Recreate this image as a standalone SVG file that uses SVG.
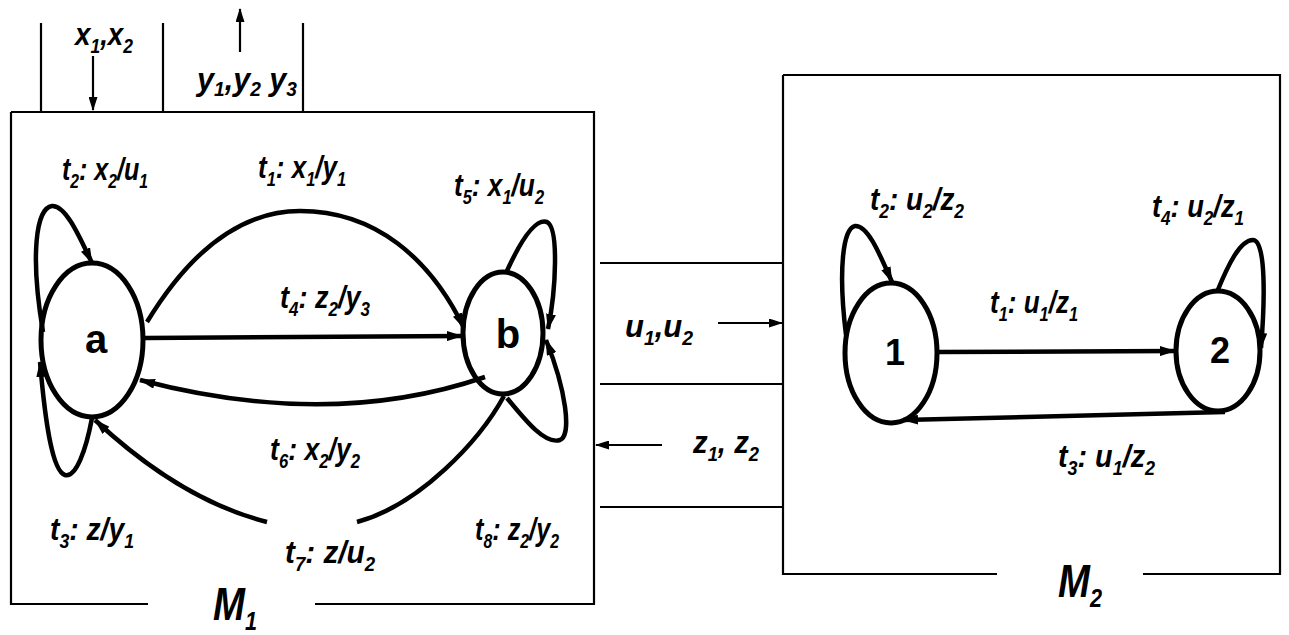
<svg xmlns="http://www.w3.org/2000/svg" width="1289" height="635" viewBox="0 0 1289 635">
<style>
.bx{fill:none;stroke:#000;stroke-width:2.2}
.st{fill:none;stroke:#000;stroke-width:5}
.ed{fill:none;stroke:#000;stroke-width:4.5}
.th{fill:none;stroke:#000;stroke-width:2.2}
.lb{font-family:"Liberation Sans",Arial,sans-serif;font-weight:bold;font-style:italic;font-size:32px;fill:#000}
.s{font-size:20px}
.nm{font-family:"Liberation Sans",Arial,sans-serif;font-weight:bold;font-size:40px;fill:#000;text-anchor:middle}
</style>
<defs>
<marker id="ah" markerUnits="userSpaceOnUse" viewBox="0 0 16 10" refX="15" refY="5" markerWidth="16" markerHeight="10" orient="auto"><path d="M0,0 L16,5 L0,10 z" fill="#000"/></marker>
<marker id="ahs" markerUnits="userSpaceOnUse" viewBox="0 0 14 9" refX="13" refY="4.5" markerWidth="14" markerHeight="9" orient="auto"><path d="M0,0 L14,4.5 L0,9 z" fill="#000"/></marker>
</defs>
<rect width="1289" height="635" fill="#fff"/>

<g id="frames">
<path class="bx" d="M11 112 L594 112 L594 604 L315 604 M148 604 L11 604 L11 112"/>
<path class="bx" d="M41 23 L41 112 M163 23 L163 112 M303 23 L303 112"/>
<path class="bx" d="M783 75 L1280 75 L1280 574 L1143 574 M997 574 L783 574 L783 75"/>
<path class="bx" d="M600 263 L783 263 M600 384 L783 384 M600 507 L783 507"/>
<text class="lb" x="213" y="620" textLength="44" lengthAdjust="spacingAndGlyphs" style="font-size:46px">M<tspan dy="10" style="font-size:26px">1</tspan></text>
<text class="lb" x="1058" y="597" textLength="44" lengthAdjust="spacingAndGlyphs" style="font-size:46px">M<tspan dy="10" style="font-size:26px">2</tspan></text>
</g>

<g id="node-a"><ellipse class="st" cx="92" cy="340" rx="51" ry="77"/><text class="nm" x="96" y="353">a</text></g>
<g id="node-b"><ellipse class="st" cx="503" cy="333" rx="40" ry="61"/><text class="nm" x="508" y="348">b</text></g>
<g id="node-1"><ellipse class="st" cx="891" cy="353" rx="46" ry="70"/><text class="nm" x="895" y="365" style="font-size:36px">1</text></g>
<g id="node-2"><ellipse class="st" cx="1218" cy="351" rx="42" ry="60"/><text class="nm" x="1220" y="363" style="font-size:36px">2</text></g>

<g id="connectors">
<path class="th" d="M93 56 L93 110" marker-end="url(#ahs)"/>
<path class="th" d="M240 52 L240 9" marker-end="url(#ahs)"/>
<path class="th" d="M718 323 L782 323" marker-end="url(#ahs)"/>
<path class="th" d="M662 445 L596 445" marker-end="url(#ahs)"/>
<path class="ed" d="M43 332 C30 255 36 208 52 206 C66 205 80 238 92 263" marker-end="url(#ah)"/>
<path class="ed" d="M92 418 C86 450 76 478 65 475 C52 471 45 420 40 362" marker-end="url(#ah)"/>
<path class="ed" d="M147 322 C200 235 255 211 300 211 C375 211 430 258 464 328" marker-end="url(#ah)"/>
<path class="ed" d="M145 338 L462 336" marker-end="url(#ah)"/>
<path class="ed" d="M485 377 Q330 430 140 380" marker-end="url(#ah)"/>
<path class="ed" d="M504 396 C480 440 420 505 357 522"/>
<path class="ed" d="M267 522 C200 505 140 462 95 420" marker-end="url(#ah)"/>
<path class="ed" d="M506 273 C520 242 535 218 547 222 C559 228 556 290 548 329" marker-end="url(#ah)"/>
<path class="ed" d="M507 398 C525 420 545 445 560 440 C572 435 566 390 546 340" marker-end="url(#ah)"/>
<path class="ed" d="M846 335 C838 270 843 228 855 226 C868 225 880 255 892 282" marker-end="url(#ah)"/>
<path class="ed" d="M1217 292 C1228 265 1240 240 1253 240 C1266 240 1265 300 1261 348" marker-end="url(#ah)"/>
<path class="ed" d="M937 352 L1175 351" marker-end="url(#ah)"/>
<path class="ed" d="M1225 412 L903 420" marker-end="url(#ah)"/>
</g>

<g id="labels">
<text class="lb" x="75" y="45" textLength="58" lengthAdjust="spacingAndGlyphs">x<tspan class="s" dy="8">1</tspan><tspan dy="-8">,x</tspan><tspan class="s" dy="8">2</tspan></text>
<text class="lb" x="197" y="90" textLength="100" lengthAdjust="spacingAndGlyphs">y<tspan class="s" dy="6">1</tspan><tspan dy="-6">,y</tspan><tspan class="s" dy="6">2</tspan><tspan dy="-6"> y</tspan><tspan class="s" dy="6">3</tspan></text>
<text class="lb" x="625" y="337" textLength="68" lengthAdjust="spacingAndGlyphs">u<tspan class="s" dy="8">1</tspan><tspan dy="-8">,u</tspan><tspan class="s" dy="8">2</tspan></text>
<text class="lb" x="693" y="453" textLength="66" lengthAdjust="spacingAndGlyphs">z<tspan class="s" dy="8">1</tspan><tspan dy="-8">, z</tspan><tspan class="s" dy="8">2</tspan></text>

<text class="lb" x="62" y="180" textLength="86" lengthAdjust="spacingAndGlyphs">t<tspan class="s" dy="8">2</tspan><tspan dy="-8">: x</tspan><tspan class="s" dy="8">2</tspan><tspan dy="-8">/u</tspan><tspan class="s" dy="8">1</tspan></text>
<text class="lb" x="258" y="178" textLength="88" lengthAdjust="spacingAndGlyphs">t<tspan class="s" dy="8">1</tspan><tspan dy="-8">: x</tspan><tspan class="s" dy="8">1</tspan><tspan dy="-8">/y</tspan><tspan class="s" dy="8">1</tspan></text>
<text class="lb" x="454" y="196" textLength="90" lengthAdjust="spacingAndGlyphs">t<tspan class="s" dy="8">5</tspan><tspan dy="-8">: x</tspan><tspan class="s" dy="8">1</tspan><tspan dy="-8">/u</tspan><tspan class="s" dy="8">2</tspan></text>
<text class="lb" x="280" y="308" textLength="90" lengthAdjust="spacingAndGlyphs">t<tspan class="s" dy="8">4</tspan><tspan dy="-8">: z</tspan><tspan class="s" dy="8">2</tspan><tspan dy="-8">/y</tspan><tspan class="s" dy="8">3</tspan></text>
<text class="lb" x="270" y="460" textLength="90" lengthAdjust="spacingAndGlyphs">t<tspan class="s" dy="8">6</tspan><tspan dy="-8">: x</tspan><tspan class="s" dy="8">2</tspan><tspan dy="-8">/y</tspan><tspan class="s" dy="8">2</tspan></text>
<text class="lb" x="50" y="540" textLength="84" lengthAdjust="spacingAndGlyphs">t<tspan class="s" dy="8">3</tspan><tspan dy="-8">: z/y</tspan><tspan class="s" dy="8">1</tspan></text>
<text class="lb" x="285" y="563" textLength="90" lengthAdjust="spacingAndGlyphs">t<tspan class="s" dy="8">7</tspan><tspan dy="-8">: z/u</tspan><tspan class="s" dy="8">2</tspan></text>
<text class="lb" x="475" y="540" textLength="84" lengthAdjust="spacingAndGlyphs">t<tspan class="s" dy="8">8</tspan><tspan dy="-8">: z</tspan><tspan class="s" dy="8">2</tspan><tspan dy="-8">/y</tspan><tspan class="s" dy="8">2</tspan></text>

<text class="lb" x="870" y="210" textLength="94" lengthAdjust="spacingAndGlyphs">t<tspan class="s" dy="8">2</tspan><tspan dy="-8">: u</tspan><tspan class="s" dy="8">2</tspan><tspan dy="-8">/z</tspan><tspan class="s" dy="8">2</tspan></text>
<text class="lb" x="1152" y="217" textLength="92" lengthAdjust="spacingAndGlyphs">t<tspan class="s" dy="8">4</tspan><tspan dy="-8">: u</tspan><tspan class="s" dy="8">2</tspan><tspan dy="-8">/z</tspan><tspan class="s" dy="8">1</tspan></text>
<text class="lb" x="990" y="313" textLength="88" lengthAdjust="spacingAndGlyphs">t<tspan class="s" dy="8">1</tspan><tspan dy="-8">: u</tspan><tspan class="s" dy="8">1</tspan><tspan dy="-8">/z</tspan><tspan class="s" dy="8">1</tspan></text>
<text class="lb" x="1058" y="467" textLength="97" lengthAdjust="spacingAndGlyphs">t<tspan class="s" dy="8">3</tspan><tspan dy="-8">: u</tspan><tspan class="s" dy="8">1</tspan><tspan dy="-8">/z</tspan><tspan class="s" dy="8">2</tspan></text>
</g>
</svg>
